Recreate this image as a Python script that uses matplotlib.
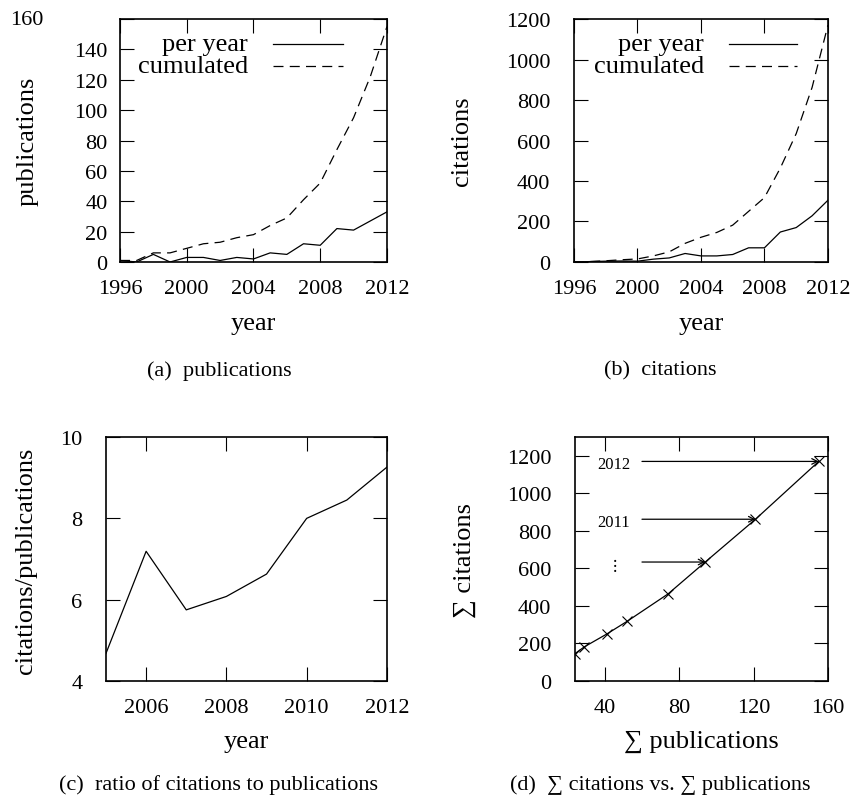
import numpy as np
import matplotlib
matplotlib.use('Agg')
import matplotlib.pyplot as plt

plt.rcParams['font.family'] = ['Liberation Serif', 'DejaVu Serif']
plt.rcParams['mathtext.fontset'] = 'stix'

# values
years = list(range(1996, 2013))
pubs_per_year = [1, 0, 5, 0, 3, 3, 1, 3, 2, 6, 5, 12, 11, 22, 21, 27, 33]
pubs_cumulated = [1, 1, 6, 6, 9, 12, 13, 16, 18, 24, 29, 41, 52, 74, 95, 122, 155]
cits_per_year = [0, 2, 4, 5, 4, 14, 20, 42, 30, 30, 37, 70, 70, 148, 170, 228, 305]
cits_cumulated = [0, 2, 6, 11, 15, 30, 50, 92, 122, 146, 182, 250, 318, 464, 634,
                  862, 1170]

ratio_years = list(range(2005, 2013))
ratio = [4.68, 7.19, 5.75, 6.08, 6.63, 8.0, 8.45, 9.26]

sum_pubs = [24, 29, 41, 52, 74, 94, 121, 155]
sum_cits = [146, 182, 250, 318, 464, 634, 862, 1170]
arrow_labels = ['$\\vdots$', '2011', '2012']

TICK = 16
LABEL = 19
CAP = 16

fig = plt.figure(figsize=(8.54, 8.04), dpi=100)
ax_a = fig.add_axes([0.1405, 0.6729, 0.3126, 0.3022])
ax_b = fig.add_axes([0.6721, 0.6729, 0.2974, 0.3022])
ax_c = fig.add_axes([0.1241, 0.1517, 0.3290, 0.3035])
ax_d = fig.add_axes([0.6733, 0.1517, 0.2963, 0.3035])


def style(ax, ypad, xpad):
    for s in ax.spines.values():
        s.set_linewidth(1.2)
    ax.tick_params(direction='in', top=True, right=True, length=10, width=0.8,
                   labelsize=TICK)
    ax.tick_params(axis='y', pad=ypad)
    ax.tick_params(axis='x', pad=xpad)


def legend(ax, txt_x, x0, x1):
    ax.text(txt_x, 0.897, 'per year', transform=ax.transAxes, ha='right',
            va='center', fontsize=LABEL)
    ax.text(txt_x, 0.805, 'cumulated', transform=ax.transAxes, ha='right',
            va='center', fontsize=LABEL)
    ax.plot([x0, x1], [0.897, 0.897], color='black', lw=0.9,
            transform=ax.transAxes)
    ax.plot([x0, x1], [0.805, 0.805], color='black', lw=0.9, dashes=(8, 5),
            transform=ax.transAxes)


# (a) publications
ax_a.plot(years, pubs_per_year, color='black', lw=0.9)
ax_a.plot(years, pubs_cumulated, color='black', lw=0.9, dashes=(8, 5))
ax_a.set_xlim(1996, 2012)
ax_a.set_ylim(0, 160)
ax_a.set_xticks([1996, 2000, 2004, 2008, 2012])
ax_a.set_yticks(range(0, 161, 20))
ax_a.set_yticklabels([str(v) for v in range(0, 141, 20)] + [''])
ax_a.text(-0.288, 1.0, '160', transform=ax_a.transAxes, ha='right',
          va='center', fontsize=TICK)
style(ax_a, 9, 12)
legend(ax_a, 0.479, 0.573, 0.835)
ax_a.set_ylabel('publications', fontsize=LABEL, va='center')
ax_a.yaxis.set_label_coords(-0.345, 0.5)
ax_a.set_xlabel('year', fontsize=LABEL, va='center')
ax_a.xaxis.set_label_coords(0.5, -0.25)

# (b) citations
ax_b.plot(years, cits_per_year, color='black', lw=0.9)
ax_b.plot(years, cits_cumulated, color='black', lw=0.9, dashes=(8, 5))
ax_b.set_xlim(1996, 2012)
ax_b.set_ylim(0, 1200)
ax_b.set_xticks([1996, 2000, 2004, 2008, 2012])
ax_b.set_yticks(range(0, 1201, 200))
style(ax_b, 17, 12)
legend(ax_b, 0.512, 0.61, 0.878)
ax_b.set_ylabel('citations', fontsize=LABEL, va='center')
ax_b.yaxis.set_label_coords(-0.441, 0.5)
ax_b.set_xlabel('year', fontsize=LABEL, va='center')
ax_b.xaxis.set_label_coords(0.5, -0.25)

# (c) ratio
ax_c.plot(ratio_years, ratio, color='black', lw=0.9)
ax_c.set_xlim(2005, 2012)
ax_c.set_ylim(4, 10)
ax_c.set_xticks([2006, 2008, 2010, 2012])
ax_c.set_yticks([4, 6, 8, 10])
style(ax_c, 17, 12)
ax_c.set_ylabel('citations/publications', fontsize=LABEL, va='center')
ax_c.yaxis.set_label_coords(-0.285, 0.496)
ax_c.set_xlabel('year', fontsize=LABEL, va='center')
ax_c.xaxis.set_label_coords(0.5, -0.245)

# (d) sum citations vs sum publications
ax_d.plot(sum_pubs, sum_cits, color='black', lw=0.9, marker='x', ms=7,
          mew=0.8)
ax_d.set_xlim(24, 160)
ax_d.set_ylim(0, 1300)
ax_d.set_xticks([40, 80, 120, 160])
ax_d.set_yticks(range(0, 1201, 200))
style(ax_d, 17, 12)
for lab, px, py in zip(arrow_labels, sum_pubs[-3:], sum_cits[-3:]):
    ax_d.annotate('', xy=(px, py), xytext=(60, py),
                  arrowprops=dict(arrowstyle='->', lw=0.9, color='black',
                                  shrinkA=0, shrinkB=0))
    ax_d.text(44.8, py - 15, lab, ha='center', va='center', fontsize=12)
ax_d.set_ylabel('\u2211 citations', fontsize=LABEL, va='center')
ax_d.yaxis.set_label_coords(-0.435, 0.5)
ax_d.set_xlabel('\u2211 publications', fontsize=LABEL, va='center')
ax_d.xaxis.set_label_coords(0.5, -0.245)

# captions
fig.text(0.2564, 0.5386, '(a)  publications', ha='center', va='center',
         fontsize=CAP)
fig.text(0.7728, 0.5386, '(b)  citations', ha='center', va='center',
         fontsize=CAP)
fig.text(0.2553, 0.0236, '(c)  ratio of citations to publications',
         ha='center', va='center', fontsize=CAP)
fig.text(0.7728, 0.0236, '(d)  \u2211 citations vs. \u2211 publications',
         ha='center', va='center', fontsize=CAP)

fig.savefig('out.png', dpi=100)
